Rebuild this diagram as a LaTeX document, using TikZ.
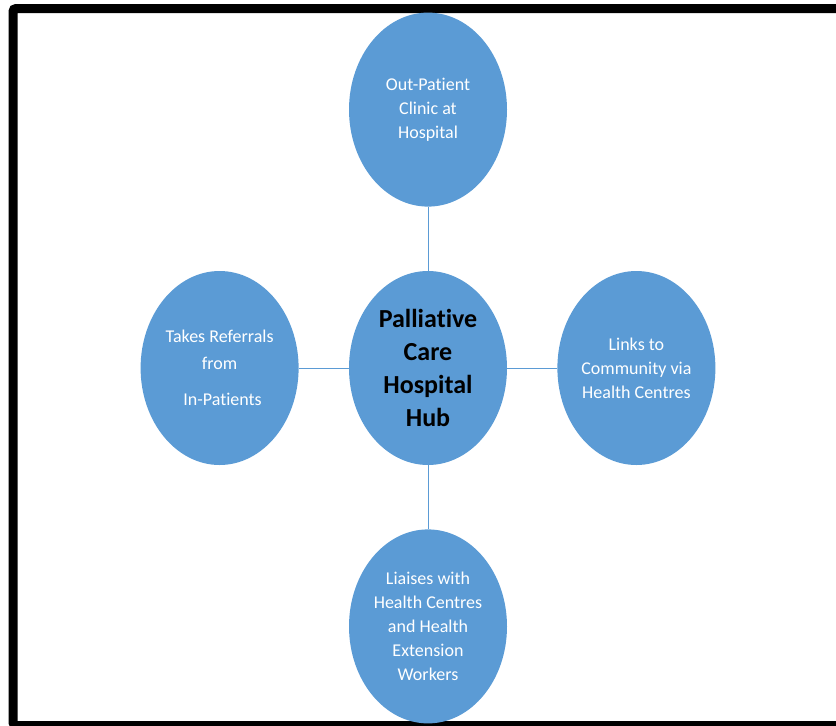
\documentclass[tikz,border=0pt]{standalone}
\usepackage{fontspec}
\setmainfont{Carlito}[Ligatures=NoCommon]
\usepackage{tikz}
\usetikzlibrary{
  positioning,
  shapes.geometric}
\definecolor{hubblue}{RGB}{91,155,213}
\tikzset{
     spoke/.style={ellipse, fill=hubblue, draw=none, inner sep=0pt,
        minimum width=158pt, minimum height=194pt, align=center,
        text=white, font=\fontsize{18}{24}\selectfont},
     hub/.style={spoke, text=black, font=\fontsize{26}{33}\selectfont\bfseries},
     link/.style={draw=hubblue, line width=1pt},
     frame/.style={line width=9pt, rounded corners=3pt}
  }

\begin{document}
\begin{tikzpicture}[x=1pt, y=-1pt, node distance=64pt and 50pt]
  \useasboundingbox (0,0) rectangle (836,726);
  % outer border, its right side runs off the page
  \draw[frame] (845,8.5) -- (13,8.5) -- (13,725.5) -- (845,725.5);
%
  \node[hub] (hub) at (428,368) {Palliative\\Care\\Hospital\\Hub};
  \node[spoke, above=of hub] (clinic) {Out-Patient\\Clinic at\\Hospital};
  \node[spoke, below=of hub] (liaise) {Liaises with\\Health Centres\\and Health\\Extension\\Workers};
  \node[spoke, left=of hub, font=\fontsize{18}{27}\selectfont] (referrals)
    {Takes Referrals\\from\\[9pt]\hspace*{6pt}In-Patients};
  \node[spoke, right=of hub] (community) {Links to\\Community via\\Health Centres};
%
  \draw[link] (hub) -- (clinic);
  \draw[link] (hub) -- (liaise);
  \draw[link] (hub) -- (referrals);
  \draw[link] (hub) -- (community);
\end{tikzpicture}
\end{document}
